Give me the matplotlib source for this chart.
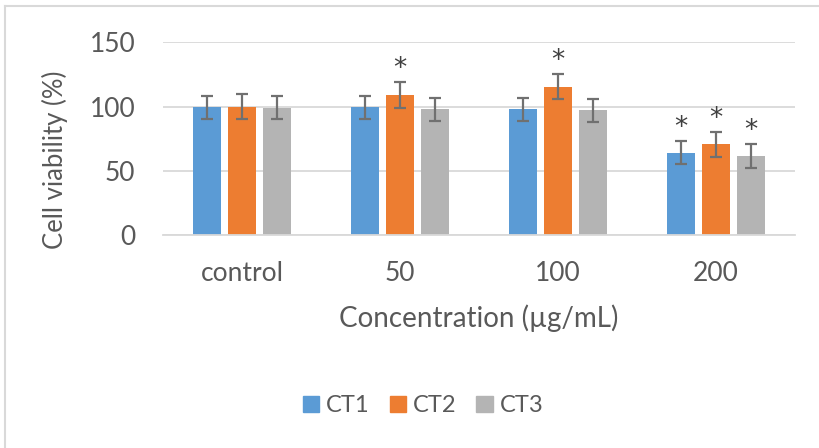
import matplotlib
matplotlib.use("Agg")
import matplotlib.pyplot as plt
from matplotlib.lines import Line2D
import numpy as np

plt.rcParams['font.family'] = ['Lato', 'DejaVu Sans']

categories = ['control', '50', '100', '200']
series_names = ['CT1', 'CT2', 'CT3']
ct1 = [99.5, 99.5, 98.0, 64.0]
ct2 = [100.0, 109.0, 115.5, 70.5]
ct3 = [99.0, 98.0, 97.0, 61.5]
err1 = [9, 9, 9, 9]
err2 = [10, 10, 10, 10]
err3 = [9, 9, 9, 9.5]
# significance marks (*) per series
sig1 = [False, False, False, True]
sig2 = [False, True, True, True]
sig3 = [False, False, False, True]

colors = ['#5B9BD5', '#ED7D31', '#B4B4B4']
text_col = '#595959'

fig = plt.figure(figsize=(8.2, 4.48), dpi=100)
ax = fig.add_axes([0.199, 0.4754, 0.7705, 0.4302])

x = np.arange(len(categories))
width = 0.177
step = 0.222
values = [ct1, ct2, ct3]
errors = [err1, err2, err3]
sigs = [sig1, sig2, sig3]

for i, (vals, errs, sig) in enumerate(zip(values, errors, sigs)):
    pos = x + (i - 1) * step
    ax.bar(pos, vals, width, color=colors[i], label=series_names[i], zorder=2)
    ax.errorbar(pos, vals, yerr=errs, fmt='none', ecolor='#707070',
                elinewidth=1.6, capsize=4.5, capthick=1.6, zorder=3)
    for p, v, e, s in zip(pos, vals, errs, sig):
        if s:
            ax.annotate('*', (p, v + e), xytext=(0, 0), textcoords='offset points',
                        ha='center', va='bottom', fontsize=19, color='#404040',
                        family='DejaVu Sans')

ax.set_xlim(-0.5, 3.5)
ax.set_ylim(0, 150)
ax.set_yticks([0, 50, 100, 150])
ax.yaxis.grid(True, color='#D9D9D9', linewidth=1.3, zorder=0)
ax.set_axisbelow(True)
for sp in ['top', 'right', 'left']:
    ax.spines[sp].set_visible(False)
ax.spines['bottom'].set_color('#D9D9D9')
ax.spines['bottom'].set_linewidth(1.3)
ax.tick_params(axis='both', length=0, labelsize=19, colors=text_col)
ax.tick_params(axis='x', pad=19)
ax.tick_params(axis='y', pad=20)
ax.set_xticks(x)
ax.set_xticklabels(categories)

# axis titles placed like the spreadsheet chart
fig.text(55 / 820, 1 - 160 / 448, 'Cell viability (%)', rotation=90,
         ha='center', va='center', fontsize=18.5, color=text_col)
fig.text(479 / 820, 1 - 318 / 448, 'Concentration (µg/mL)',
         ha='center', va='center', fontsize=20, color=text_col)

handles = [plt.Rectangle((0, 0), 1, 1, color=c) for c in colors]
fig.legend(handles, series_names, loc='center', bbox_to_anchor=(0.516, 0.094),
           ncol=3, frameon=False, fontsize=17, labelcolor=text_col,
           handlelength=0.68, handleheight=0.68, handletextpad=0.3, columnspacing=0.85)

# outer chart frame (top and left edges visible)
fig.add_artist(Line2D([0.006, 0.006], [0, 0.987], transform=fig.transFigure,
                      color='#D9D9D9', linewidth=1.5))
fig.add_artist(Line2D([0.006, 1.0], [0.987, 0.987], transform=fig.transFigure,
                      color='#D9D9D9', linewidth=1.5))

fig.savefig('out.png', dpi=100)
